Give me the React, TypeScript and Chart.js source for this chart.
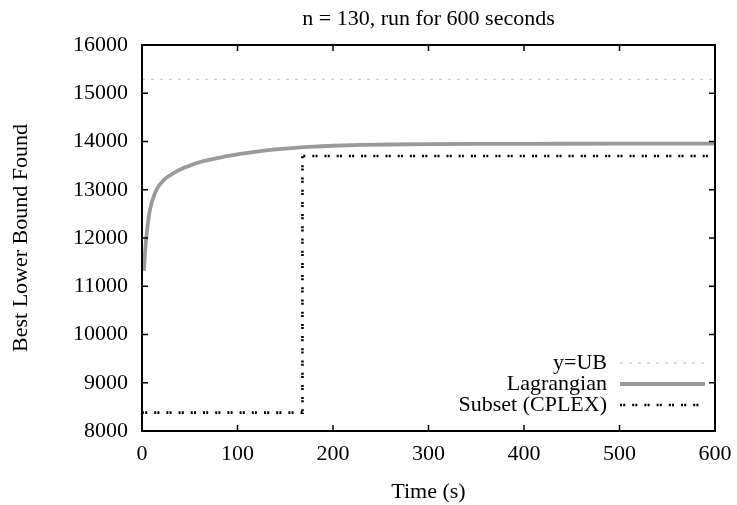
import React, { useEffect, useRef } from "react";
import { Chart, registerables } from "chart.js";

Chart.register(...registerables);

const TITLE = "n = 130, run for 600 seconds";
const X_LABEL = "Time (s)";
const Y_LABEL = "Best Lower Bound Found";
const SERIES_NAMES = ["y=UB", "Lagrangian", "Subset (CPLEX)"];

const X_MIN = 0;
const X_MAX = 600;
const X_STEP = 100;
const Y_MIN = 8000;
const Y_MAX = 16000;
const Y_STEP = 1000;

const UB_VALUE = 15290;

const lagrangianTimes = [2, 3, 4, 5, 6, 8, 10, 13, 16, 20, 25, 30, 40, 50, 60, 70, 80, 90, 100, 120, 140, 160, 180, 200, 230, 260, 300, 350, 400, 500, 600];
const lagrangianValues = [11320, 11650, 11900, 12100, 12280, 12550, 12720, 12900, 13030, 13140, 13240, 13310, 13420, 13500, 13570, 13620, 13660, 13700, 13735, 13790, 13835, 13870, 13895, 13912, 13928, 13938, 13945, 13950, 13952, 13955, 13956];

const subsetTimes = [0, 168, 168, 600];
const subsetValues = [8380, 8380, 13700, 13700];

const FONT_FAMILY = '"Liberation Serif", "Times New Roman", serif';
const FONT_SIZE = 22;

const UB_COLOR = "#bdbdbd";
const LAG_COLOR = "#9a9a9a";
const SUBSET_COLOR = "#000000";

const UB_DASH = [3, 6];
const SUBSET_DASH = [2, 1.2, 2, 7];

const frameAndLegend = {
  id: "frameAndLegend",
  afterDatasetsDraw(chart: any) {
    const { ctx, chartArea: a, scales } = chart;
    const xs = scales.x;
    const ys = scales.y;
    ctx.save();
    ctx.strokeStyle = "#000";
    ctx.lineWidth = 1.5;
    const L = 6;
    ctx.beginPath();
    xs.ticks.forEach((t: any) => {
      const px = xs.getPixelForValue(t.value);
      ctx.moveTo(px, a.bottom);
      ctx.lineTo(px, a.bottom - L);
      ctx.moveTo(px, a.top);
      ctx.lineTo(px, a.top + L);
    });
    ys.ticks.forEach((t: any) => {
      const py = ys.getPixelForValue(t.value);
      ctx.moveTo(a.left, py);
      ctx.lineTo(a.left + L, py);
      ctx.moveTo(a.right, py);
      ctx.lineTo(a.right - L, py);
    });
    ctx.stroke();
    ctx.lineWidth = 2;
    ctx.strokeRect(a.left, a.top, a.right - a.left, a.bottom - a.top);

    ctx.fillStyle = "#000";
    ctx.font = `${FONT_SIZE}px ${FONT_FAMILY}`;
    ctx.textAlign = "center";
    ctx.textBaseline = "middle";
    ctx.fillText(TITLE, (a.left + a.right) / 2, 19);

    const rows = [a.bottom - 68, a.bottom - 47, a.bottom - 26];
    const textRight = a.right - 108;
    const sx0 = a.right - 95;
    const sx1 = a.right - 10;
    ctx.textAlign = "right";
    const styles = [
      { color: UB_COLOR, width: 1.2, dash: UB_DASH },
      { color: LAG_COLOR, width: 3.8, dash: [] as number[] },
      { color: SUBSET_COLOR, width: 2.6, dash: SUBSET_DASH },
    ];
    SERIES_NAMES.forEach((name, i) => {
      ctx.fillStyle = "#000";
      ctx.fillText(name, textRight, rows[i]);
      ctx.beginPath();
      ctx.strokeStyle = styles[i].color;
      ctx.lineWidth = styles[i].width;
      ctx.setLineDash(styles[i].dash);
      ctx.moveTo(sx0, rows[i]);
      ctx.lineTo(sx1, rows[i]);
      ctx.stroke();
    });
    ctx.setLineDash([]);
    ctx.restore();
  },
};

export default function App() {
  const canvasRef = useRef<HTMLCanvasElement | null>(null);

  useEffect(() => {
    document.body.style.margin = "0";
    const canvas = canvasRef.current;
    if (!canvas) return;
    const font = { family: FONT_FAMILY, size: FONT_SIZE, weight: "normal" as const };

    const chart = new Chart(canvas, {
      type: "line",
      data: {
        datasets: [
          {
            label: SERIES_NAMES[0],
            data: [
              { x: X_MIN, y: UB_VALUE },
              { x: X_MAX, y: UB_VALUE },
            ],
            borderColor: UB_COLOR,
            borderWidth: 1.2,
            borderDash: UB_DASH,
            pointRadius: 0,
            fill: false,
          },
          {
            label: SERIES_NAMES[1],
            data: lagrangianTimes.map((t, i) => ({ x: t, y: lagrangianValues[i] })),
            borderColor: LAG_COLOR,
            borderWidth: 3.8,
            pointRadius: 0,
            cubicInterpolationMode: "monotone",
            fill: false,
          },
          {
            label: SERIES_NAMES[2],
            data: subsetTimes.map((t, i) => ({ x: t, y: subsetValues[i] })),
            borderColor: SUBSET_COLOR,
            borderWidth: 2.6,
            borderDash: SUBSET_DASH,
            pointRadius: 0,
            tension: 0,
            fill: false,
          },
        ],
      },
      options: {
        animation: false,
        responsive: false,
        maintainAspectRatio: false,
        layout: { padding: { left: 0, right: 22, top: 45, bottom: 0 } },
        plugins: {
          legend: { display: false },
          tooltip: { enabled: false },
          title: { display: false },
        },
        scales: {
          x: {
            type: "linear",
            min: X_MIN,
            max: X_MAX,
            grid: { display: false, drawTicks: false },
            border: { display: false },
            ticks: { stepSize: X_STEP, color: "#000", font, padding: 10, maxRotation: 0, callback: (v: any) => String(v) },
            title: { display: true, text: X_LABEL, color: "#000", font, padding: { top: 0, bottom: 0 } },
            afterFit: (s: any) => {
              s.height = 74;
              s.paddingLeft = 0;
              s.paddingRight = 0;
            },
          },
          y: {
            type: "linear",
            min: Y_MIN,
            max: Y_MAX,
            grid: { display: false, drawTicks: false },
            border: { display: false },
            ticks: { stepSize: Y_STEP, color: "#000", font, padding: 14, callback: (v: any) => String(v) },
            title: { display: true, text: Y_LABEL, color: "#000", font, padding: { top: 8, bottom: 0 } },
            afterFit: (s: any) => {
              s.width = 142;
              s.paddingTop = 0;
              s.paddingBottom = 0;
            },
          },
        },
      },
      plugins: [frameAndLegend],
    });
    return () => chart.destroy();
  }, []);

  return (
    <div style={{ width: 737, height: 505, background: "#fff" }}>
      <canvas ref={canvasRef} width={737} height={505} style={{ display: "block" }} />
    </div>
  );
}
